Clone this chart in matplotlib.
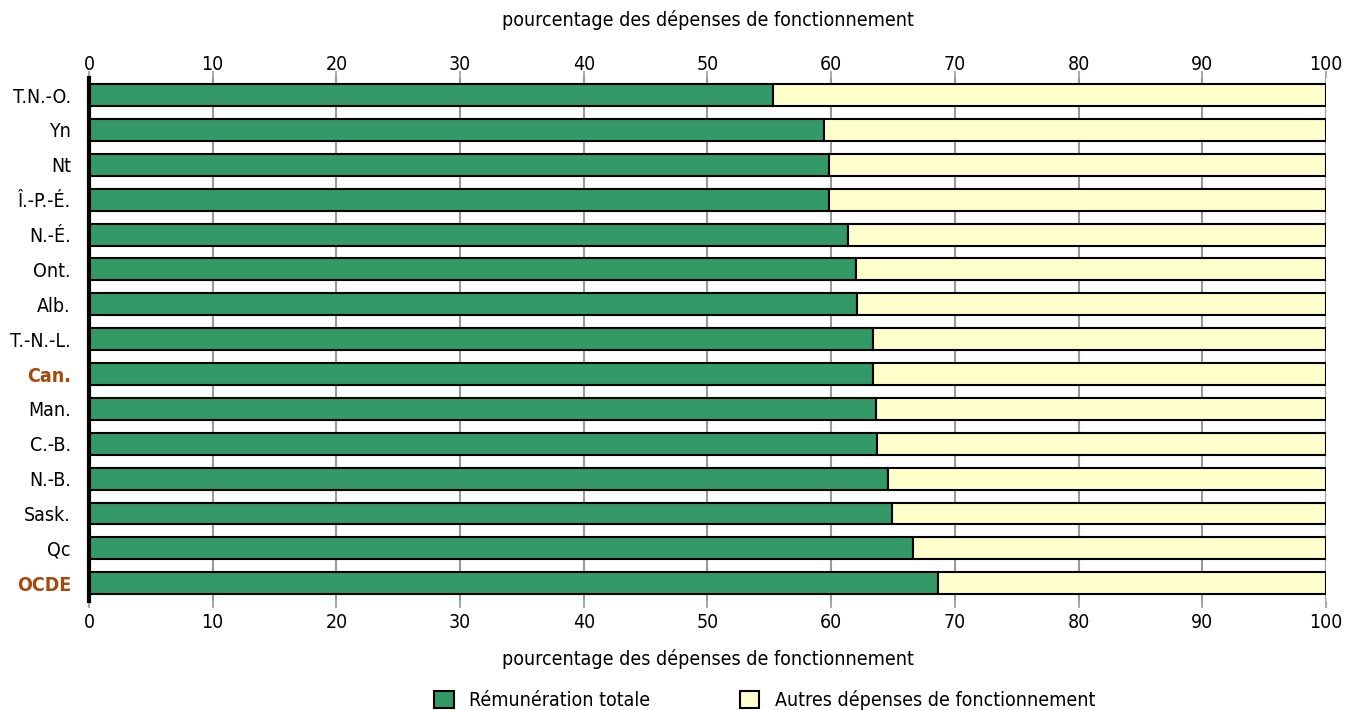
import matplotlib.pyplot as plt
import matplotlib.transforms as mtransforms
import numpy as np

plt.rcParams['font.family'] = ['Liberation Sans Narrow', 'DejaVu Sans']
plt.rcParams['font.stretch'] = 'condensed'

# regions, top to bottom
regions = ['T.N.-O.', 'Yn', 'Nt', 'Î.-P.-É.', 'N.-É.', 'Ont.', 'Alb.', 'T.-N.-L.',
           'Can.', 'Man.', 'C.-B.', 'N.-B.', 'Sask.', 'Qc', 'OCDE']
remuneration = [55.3, 59.4, 59.8, 59.8, 61.4, 62.0, 62.1, 63.4,
                63.4, 63.6, 63.7, 64.6, 64.9, 66.6, 68.6]
autres = [100 - v for v in remuneration]
highlight = ['Can.', 'OCDE']

green = '#339966'
yellow = '#FFFFCC'
brown = '#A3490C'

fig = plt.figure(figsize=(13.57, 7.10), dpi=100)
ax = fig.add_axes([0.0656, 0.154, 0.9115, 0.7366])

y = np.arange(len(regions))
ax.barh(y, remuneration, height=0.63, color=green, edgecolor='black', linewidth=1.5,
        label='Rémunération totale', zorder=3)
ax.barh(y, autres, left=remuneration, height=0.63, color=yellow, edgecolor='black',
        linewidth=1.5, label='Autres dépenses de fonctionnement', zorder=3)

ax.set_xlim(0, 100)
ax.set_ylim(len(regions) - 0.5, -0.5)
ax.set_xticks(np.arange(0, 101, 10))
ax.set_yticks(y)
ax.set_yticklabels(regions)
for lbl in ax.get_yticklabels():
    if lbl.get_text() in highlight:
        lbl.set_color(brown)
        lbl.set_fontweight('bold')

ax.tick_params(axis='x', top=True, labeltop=True, bottom=True, labelbottom=True,
               length=5, color='#999999', width=1.2, labelsize=14, pad=4)
ax.tick_params(axis='y', length=0, labelsize=14, pad=13)
ax.grid(axis='x', color='#999999', linewidth=1.5, zorder=0)

# push the top tick labels a bit closer to the bars
shift = mtransforms.ScaledTranslation(0, -6 / 72, fig.dpi_scale_trans)
for t in ax.xaxis.get_major_ticks():
    t.label2.set_transform(t.label2.get_transform() + shift)

for s in ['top', 'right', 'bottom']:
    ax.spines[s].set_visible(False)
ax.spines['left'].set_linewidth(3)
ax.spines['left'].set_zorder(4)

ax.set_xlabel('pourcentage des dépenses de fonctionnement', fontsize=14, labelpad=12)
ax.text(0.5, 1.092, 'pourcentage des dépenses de fonctionnement', transform=ax.transAxes,
        ha='center', va='bottom', fontsize=14)

fig.legend(loc='lower center', bbox_to_anchor=(0.5637, -0.025), ncol=2, frameon=False,
           fontsize=14, columnspacing=4.6, handlelength=1.0, handleheight=1.0,
           handletextpad=0.8)

fig.savefig('out.png', dpi=100)
